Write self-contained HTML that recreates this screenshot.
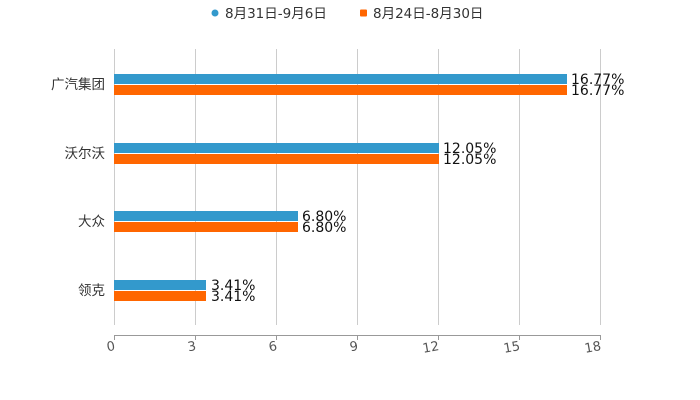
<!DOCTYPE html>
<html><head><meta charset="utf-8"><style>
body{margin:0;background:#fff;}
svg{display:block;font-family:"DejaVu Sans","Liberation Sans","Noto Sans CJK SC",sans-serif;}
</style></head><body>
<svg width="700" height="400" viewBox="0 0 700 400">
<g stroke="#ccc" stroke-width="1">
<line x1="114.5" y1="49" x2="114.5" y2="325"/>
<line x1="195.5" y1="49" x2="195.5" y2="325"/>
<line x1="276.5" y1="49" x2="276.5" y2="325"/>
<line x1="357.5" y1="49" x2="357.5" y2="325"/>
<line x1="438.5" y1="49" x2="438.5" y2="325"/>
<line x1="519.5" y1="49" x2="519.5" y2="325"/>
<line x1="600.5" y1="49" x2="600.5" y2="325"/>
</g>
<g stroke="#999" stroke-width="1">
<line x1="114" y1="335.5" x2="601" y2="335.5"/>
<line x1="114.5" y1="335" x2="114.5" y2="340"/>
<line x1="195.5" y1="335" x2="195.5" y2="340"/>
<line x1="276.5" y1="335" x2="276.5" y2="340"/>
<line x1="357.5" y1="335" x2="357.5" y2="340"/>
<line x1="438.5" y1="335" x2="438.5" y2="340"/>
<line x1="519.5" y1="335" x2="519.5" y2="340"/>
<line x1="600.5" y1="335" x2="600.5" y2="340"/>
</g>
<g font-size="13" fill="#555" text-anchor="end">
<text x="115" y="350" transform="rotate(-10 115 346)">0</text>
<text x="196" y="350" transform="rotate(-10 196 346)">3</text>
<text x="277" y="350" transform="rotate(-10 277 346)">6</text>
<text x="358" y="350" transform="rotate(-10 358 346)">9</text>
<text x="439" y="350" transform="rotate(-10 439 346)">12</text>
<text x="520" y="350" transform="rotate(-10 520 346)">15</text>
<text x="601" y="350" transform="rotate(-10 601 346)">18</text>
</g>
<g font-size="13.5" fill="#333" text-anchor="end">
<text x="105" y="89">广汽集团</text>
<text x="105" y="158">沃尔沃</text>
<text x="105" y="226">大众</text>
<text x="105" y="295">领克</text>
</g>
<g fill="#3399cc">
<rect x="114" y="74" width="453" height="10"/>
<rect x="114" y="143" width="325" height="10"/>
<rect x="114" y="211" width="184" height="10"/>
<rect x="114" y="280" width="92" height="10"/>
</g>
<g fill="#ff6600">
<rect x="114" y="85" width="453" height="10"/>
<rect x="114" y="154" width="325" height="10"/>
<rect x="114" y="222" width="184" height="10"/>
<rect x="114" y="291" width="92" height="10"/>
</g>
<g font-size="14" fill="#111">
<text x="571" y="84">16.77%</text>
<text x="571" y="95">16.77%</text>
<text x="443" y="153">12.05%</text>
<text x="443" y="164">12.05%</text>
<text x="302" y="221">6.80%</text>
<text x="302" y="232">6.80%</text>
<text x="211" y="290">3.41%</text>
<text x="211" y="301">3.41%</text>
</g>
<circle cx="215" cy="13" r="3.5" fill="#3399cc"/>
<text x="225" y="18" font-size="13.5" fill="#333">8月31日-9月6日</text>
<rect x="360" y="9.5" width="7" height="7" rx="1" fill="#ff6600"/>
<text x="373" y="18" font-size="13.5" fill="#333">8月24日-8月30日</text>
</svg>
</body></html>
